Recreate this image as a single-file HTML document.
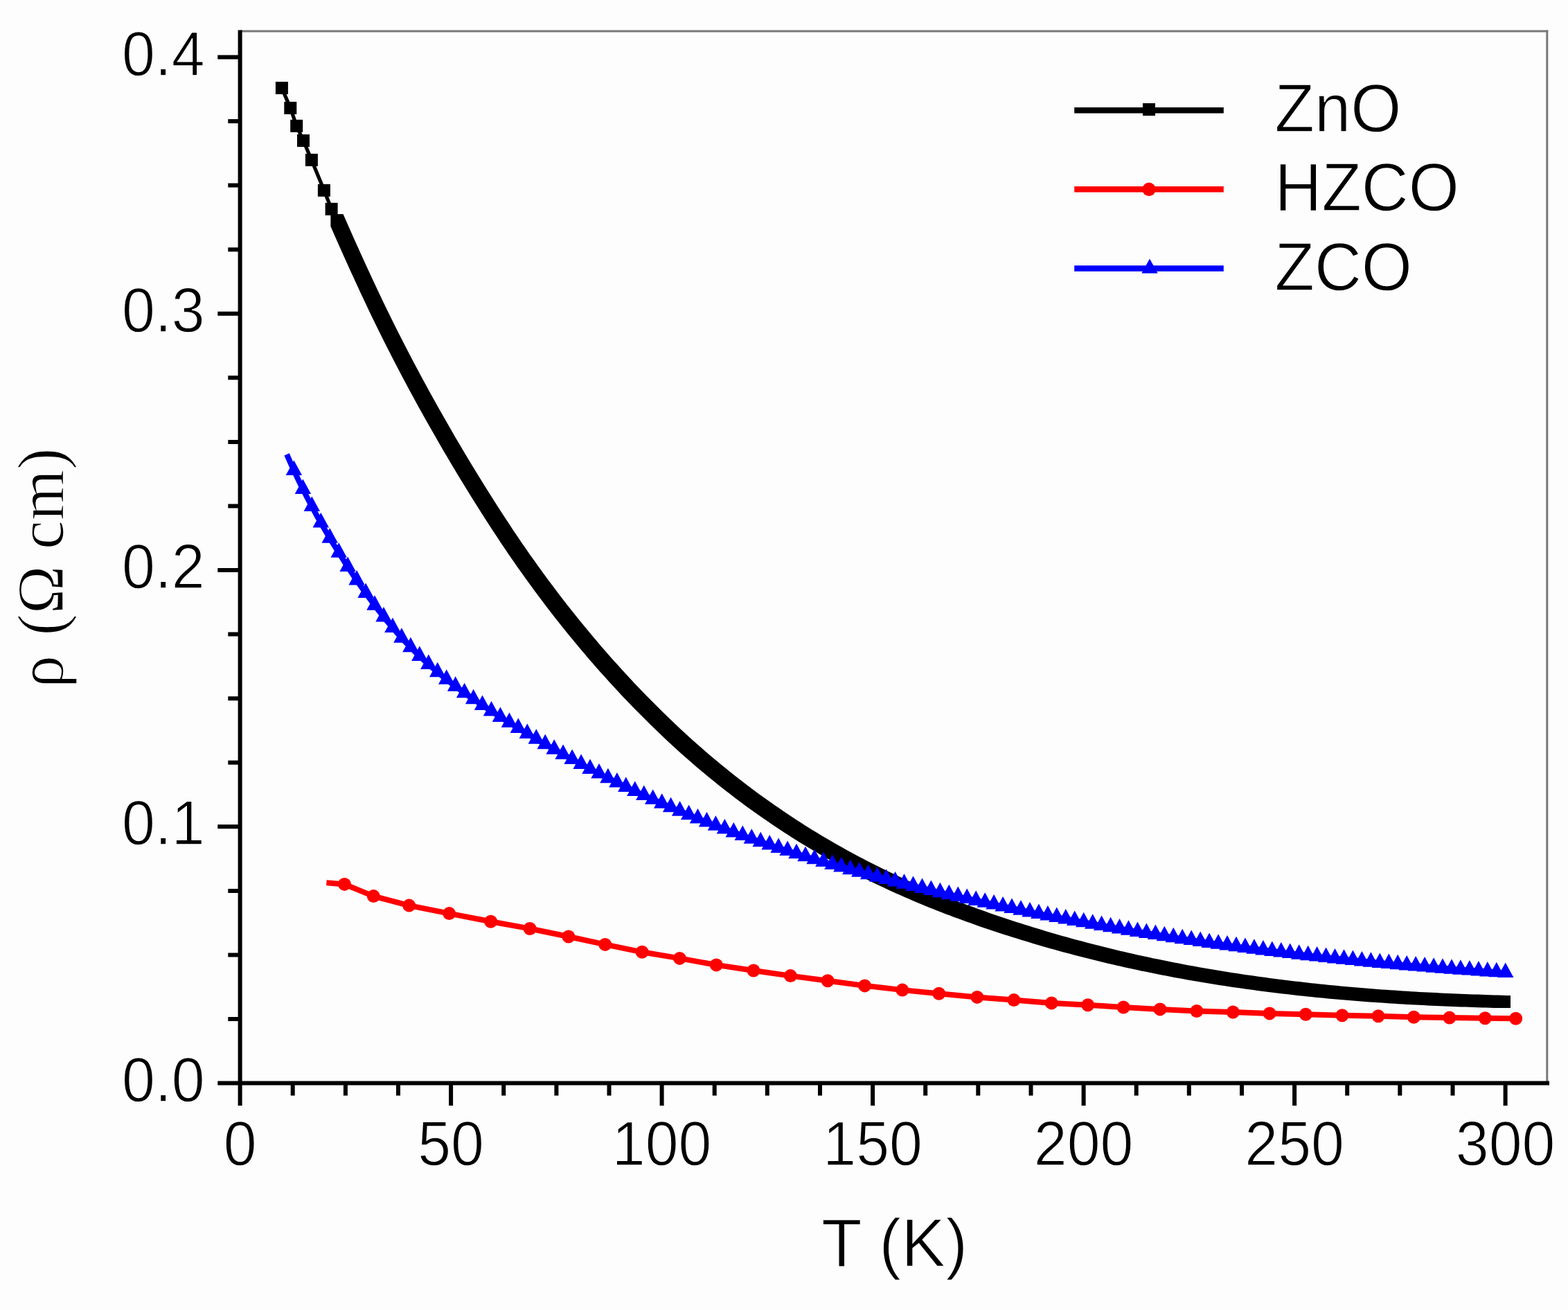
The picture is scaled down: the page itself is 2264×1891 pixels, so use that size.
<!DOCTYPE html>
<html lang="en"><head><meta charset="utf-8"><title>Resistivity vs temperature</title>
<style>html,body{margin:0;padding:0;background:#fdfdfd;}body{width:2264px;height:1891px;overflow:hidden;}svg{display:block;}text{font-family:"Liberation Sans",sans-serif;fill:#000;stroke:#fdfdfd;stroke-width:1.3px;}.tk{font-size:86px;}.lg{font-size:94px;}.ser{font-family:"Liberation Serif",serif;}</style></head><body>
<svg width="2264" height="1891" viewBox="0 0 2264 1891">
<rect width="2264" height="1891" fill="#fdfdfd"/>
<g>
<g stroke="#787878" stroke-width="3" fill="none">
<line x1="346.6" y1="45" x2="2235.3" y2="45"/>
<line x1="2233.8" y1="43.5" x2="2233.8" y2="1563.6"/>
</g>
<g fill="#000" stroke="none">
<polyline fill="none" stroke="#000" stroke-width="5.2" stroke-linejoin="round" points="406.9,127 419.3,155.9 428.2,181.8 438,203 449.9,230.9 467.9,274.8 478.6,301.8 486.6,318.3"/>
<rect x="397.9" y="118" width="18" height="18"/>
<rect x="410.3" y="146.9" width="18" height="18"/>
<rect x="419.2" y="172.8" width="18" height="18"/>
<rect x="429" y="194" width="18" height="18"/>
<rect x="440.9" y="221.9" width="18" height="18"/>
<rect x="458.9" y="265.8" width="18" height="18"/>
<rect x="469.6" y="292.8" width="18" height="18"/>
<rect x="477.6" y="309.3" width="18" height="18"/>
<polygon points="477.6,309.3 495.6,309.3 501.6,323 507.6,336.5 513.6,350 519.6,363.3 525.6,376.5 531.6,389.6 537.6,402.5 543.6,415.3 549.6,427.9 555.6,440.4 561.6,452.7 567.6,464.9 573.6,476.9 579.6,488.7 585.6,500.5 591.6,512 597.6,523.5 603.6,534.8 609.6,545.9 615.6,557 621.6,567.9 627.6,578.8 633.6,589.5 639.6,600.1 645.6,610.6 651.6,621 657.6,631.4 663.6,641.6 669.6,651.7 675.6,661.7 681.6,671.7 687.6,681.5 693.6,691.3 699.6,701 705.6,710.5 711.6,720.1 717.6,729.5 723.6,738.8 729.6,748 735.6,757.1 741.6,766.2 747.6,775.1 753.6,783.9 759.6,792.6 765.6,801.2 771.6,809.6 777.6,818 783.6,826.3 789.6,834.5 795.6,842.5 801.6,850.5 807.6,858.4 813.6,866.2 819.6,873.9 825.6,881.5 831.6,889 837.6,896.4 843.6,903.8 849.6,911 855.6,918.2 861.6,925.3 867.6,932.4 873.6,939.3 879.6,946.2 885.6,952.9 891.6,959.6 897.6,966.3 903.6,972.8 909.6,979.3 915.6,985.7 921.6,992.1 927.6,998.3 933.6,1004.5 939.6,1010.6 945.6,1016.6 951.6,1022.6 957.6,1028.5 963.6,1034.3 969.6,1040.1 975.6,1045.8 981.6,1051.4 987.6,1057 993.6,1062.4 999.6,1067.9 1005.6,1073.2 1011.6,1078.5 1017.6,1083.7 1023.6,1088.9 1029.6,1093.9 1035.6,1099 1041.6,1103.9 1047.6,1108.8 1053.6,1113.7 1059.6,1118.5 1065.6,1123.2 1071.6,1127.8 1077.6,1132.4 1083.6,1137 1089.6,1141.5 1095.6,1145.9 1101.6,1150.2 1107.6,1154.6 1113.6,1158.8 1119.6,1163 1125.6,1167.1 1131.6,1171.2 1137.6,1175.3 1143.6,1179.2 1149.6,1183.2 1155.6,1187.1 1161.6,1190.9 1167.6,1194.7 1173.6,1198.4 1179.6,1202 1185.6,1205.7 1191.6,1209.2 1197.6,1212.8 1203.6,1216.3 1209.6,1219.7 1215.6,1223.1 1221.6,1226.4 1227.6,1229.7 1233.6,1233 1239.6,1236.2 1245.6,1239.3 1251.6,1242.4 1257.6,1245.5 1263.6,1248.6 1269.6,1251.6 1275.6,1254.5 1281.6,1257.4 1287.6,1260.3 1293.6,1263.1 1299.6,1265.9 1305.6,1268.7 1311.6,1271.4 1317.6,1274.1 1323.6,1276.7 1329.6,1279.3 1335.6,1281.9 1341.6,1284.5 1347.6,1287 1353.6,1289.5 1359.6,1291.9 1365.6,1294.3 1371.6,1296.7 1377.6,1299 1383.6,1301.4 1389.6,1303.6 1395.6,1305.9 1401.6,1308.1 1407.6,1310.3 1413.6,1312.5 1419.6,1314.6 1425.6,1316.8 1431.6,1318.9 1437.6,1320.9 1443.6,1323 1449.6,1325 1455.6,1327 1461.6,1329 1467.6,1330.9 1473.6,1332.8 1479.6,1334.7 1485.6,1336.6 1491.6,1338.5 1497.6,1340.3 1503.6,1342.1 1509.6,1343.9 1515.6,1345.7 1521.6,1347.5 1527.6,1349.2 1533.6,1350.9 1539.6,1352.6 1545.6,1354.3 1551.6,1355.9 1557.6,1357.5 1563.6,1359.1 1569.6,1360.7 1575.6,1362.3 1581.6,1363.8 1587.6,1365.3 1593.6,1366.8 1599.6,1368.3 1605.6,1369.8 1611.6,1371.2 1617.6,1372.7 1623.6,1374.1 1629.6,1375.5 1635.6,1376.8 1641.6,1378.2 1647.6,1379.5 1653.6,1380.8 1659.6,1382.1 1665.6,1383.4 1671.6,1384.6 1677.6,1385.8 1683.6,1387.1 1689.6,1388.3 1695.6,1389.4 1701.6,1390.6 1707.6,1391.8 1713.6,1392.9 1719.6,1394 1725.6,1395.1 1731.6,1396.2 1737.6,1397.2 1743.6,1398.3 1749.6,1399.3 1755.6,1400.3 1761.6,1401.3 1767.6,1402.3 1773.6,1403.2 1779.6,1404.2 1785.6,1405.1 1791.6,1406 1797.6,1406.9 1803.6,1407.8 1809.6,1408.6 1815.6,1409.5 1821.6,1410.3 1827.6,1411.1 1833.6,1411.9 1839.6,1412.7 1845.6,1413.5 1851.6,1414.3 1857.6,1415 1863.6,1415.7 1869.6,1416.4 1875.6,1417.1 1881.6,1417.8 1887.6,1418.5 1893.6,1419.2 1899.6,1419.8 1905.6,1420.4 1911.6,1421.1 1917.6,1421.7 1923.6,1422.2 1929.6,1422.8 1935.6,1423.4 1941.6,1423.9 1947.6,1424.5 1953.6,1425 1959.6,1425.5 1965.6,1426 1971.6,1426.5 1977.6,1427 1983.6,1427.5 1989.6,1427.9 1995.6,1428.4 2001.6,1428.8 2007.6,1429.2 2013.6,1429.6 2019.6,1430 2025.6,1430.4 2031.6,1430.8 2037.6,1431.2 2043.6,1431.5 2049.6,1431.9 2055.6,1432.2 2061.6,1432.5 2067.6,1432.8 2073.6,1433.1 2079.6,1433.4 2085.6,1433.7 2091.6,1434 2097.6,1434.2 2103.6,1434.5 2109.6,1434.7 2115.6,1435 2121.6,1435.2 2127.6,1435.4 2133.6,1435.6 2139.6,1435.8 2145.6,1436 2151.6,1436.2 2157.6,1436.4 2163.6,1436.5 2169.6,1436.7 2175.6,1436.9 2181,1437 2181,1455 2163,1455 2157.6,1454.9 2151.6,1454.7 2145.6,1454.5 2139.6,1454.4 2133.6,1454.2 2127.6,1454 2121.6,1453.8 2115.6,1453.6 2109.6,1453.4 2103.6,1453.2 2097.6,1453 2091.6,1452.7 2085.6,1452.5 2079.6,1452.2 2073.6,1452 2067.6,1451.7 2061.6,1451.4 2055.6,1451.1 2049.6,1450.8 2043.6,1450.5 2037.6,1450.2 2031.6,1449.9 2025.6,1449.5 2019.6,1449.2 2013.6,1448.8 2007.6,1448.4 2001.6,1448 1995.6,1447.6 1989.6,1447.2 1983.6,1446.8 1977.6,1446.4 1971.6,1445.9 1965.6,1445.5 1959.6,1445 1953.6,1444.5 1947.6,1444 1941.6,1443.5 1935.6,1443 1929.6,1442.5 1923.6,1441.9 1917.6,1441.4 1911.6,1440.8 1905.6,1440.2 1899.6,1439.7 1893.6,1439.1 1887.6,1438.4 1881.6,1437.8 1875.6,1437.2 1869.6,1436.5 1863.6,1435.8 1857.6,1435.1 1851.6,1434.4 1845.6,1433.7 1839.6,1433 1833.6,1432.3 1827.6,1431.5 1821.6,1430.7 1815.6,1429.9 1809.6,1429.1 1803.6,1428.3 1797.6,1427.5 1791.6,1426.6 1785.6,1425.8 1779.6,1424.9 1773.6,1424 1767.6,1423.1 1761.6,1422.2 1755.6,1421.2 1749.6,1420.3 1743.6,1419.3 1737.6,1418.3 1731.6,1417.3 1725.6,1416.3 1719.6,1415.2 1713.6,1414.2 1707.6,1413.1 1701.6,1412 1695.6,1410.9 1689.6,1409.8 1683.6,1408.6 1677.6,1407.4 1671.6,1406.3 1665.6,1405.1 1659.6,1403.8 1653.6,1402.6 1647.6,1401.4 1641.6,1400.1 1635.6,1398.8 1629.6,1397.5 1623.6,1396.2 1617.6,1394.8 1611.6,1393.5 1605.6,1392.1 1599.6,1390.7 1593.6,1389.2 1587.6,1387.8 1581.6,1386.3 1575.6,1384.8 1569.6,1383.3 1563.6,1381.8 1557.6,1380.3 1551.6,1378.7 1545.6,1377.1 1539.6,1375.5 1533.6,1373.9 1527.6,1372.3 1521.6,1370.6 1515.6,1368.9 1509.6,1367.2 1503.6,1365.5 1497.6,1363.7 1491.6,1361.9 1485.6,1360.1 1479.6,1358.3 1473.6,1356.5 1467.6,1354.6 1461.6,1352.7 1455.6,1350.8 1449.6,1348.9 1443.6,1347 1437.6,1345 1431.6,1343 1425.6,1341 1419.6,1338.9 1413.6,1336.9 1407.6,1334.8 1401.6,1332.6 1395.6,1330.5 1389.6,1328.3 1383.6,1326.1 1377.6,1323.9 1371.6,1321.6 1365.6,1319.4 1359.6,1317 1353.6,1314.7 1347.6,1312.3 1341.6,1309.9 1335.6,1307.5 1329.6,1305 1323.6,1302.5 1317.6,1299.9 1311.6,1297.3 1305.6,1294.7 1299.6,1292.1 1293.6,1289.4 1287.6,1286.7 1281.6,1283.9 1275.6,1281.1 1269.6,1278.3 1263.6,1275.4 1257.6,1272.5 1251.6,1269.6 1245.6,1266.6 1239.6,1263.5 1233.6,1260.4 1227.6,1257.3 1221.6,1254.2 1215.6,1251 1209.6,1247.7 1203.6,1244.4 1197.6,1241.1 1191.6,1237.7 1185.6,1234.3 1179.6,1230.8 1173.6,1227.2 1167.6,1223.7 1161.6,1220 1155.6,1216.4 1149.6,1212.7 1143.6,1208.9 1137.6,1205.1 1131.6,1201.2 1125.6,1197.2 1119.6,1193.3 1113.6,1189.2 1107.6,1185.1 1101.6,1181 1095.6,1176.8 1089.6,1172.6 1083.6,1168.2 1077.6,1163.9 1071.6,1159.5 1065.6,1155 1059.6,1150.4 1053.6,1145.8 1047.6,1141.2 1041.6,1136.5 1035.6,1131.7 1029.6,1126.8 1023.6,1121.9 1017.6,1117 1011.6,1111.9 1005.6,1106.9 999.6,1101.7 993.6,1096.5 987.6,1091.2 981.6,1085.9 975.6,1080.4 969.6,1075 963.6,1069.4 957.6,1063.8 951.6,1058.1 945.6,1052.3 939.6,1046.5 933.6,1040.6 927.6,1034.6 921.6,1028.6 915.6,1022.5 909.6,1016.3 903.6,1010.1 897.6,1003.7 891.6,997.3 885.6,990.8 879.6,984.3 873.6,977.6 867.6,970.9 861.6,964.2 855.6,957.3 849.6,950.4 843.6,943.3 837.6,936.2 831.6,929 825.6,921.8 819.6,914.4 813.6,907 807.6,899.5 801.6,891.9 795.6,884.2 789.6,876.4 783.6,868.5 777.6,860.5 771.6,852.5 765.6,844.3 759.6,836 753.6,827.6 747.6,819.2 741.6,810.6 735.6,801.9 729.6,793.1 723.6,784.2 717.6,775.1 711.6,766 705.6,756.8 699.6,747.5 693.6,738.1 687.6,728.5 681.6,719 675.6,709.3 669.6,699.5 663.6,689.7 657.6,679.7 651.6,669.7 645.6,659.6 639.6,649.4 633.6,639 627.6,628.6 621.6,618.1 615.6,607.5 609.6,596.8 603.6,585.9 597.6,575 591.6,563.9 585.6,552.8 579.6,541.5 573.6,530 567.6,518.5 561.6,506.7 555.6,494.9 549.6,482.9 543.6,470.7 537.6,458.4 531.6,445.9 525.6,433.3 519.6,420.5 513.6,407.6 507.6,394.5 501.6,381.3 495.6,368 489.6,354.5 483.6,341 477.6,327.3"/>
</g>
<g fill="#ff0000" stroke="none">
<polyline fill="none" stroke="#ff0000" stroke-width="8" stroke-linejoin="round" points="471.4,1274.3 497.4,1276.4 539.3,1293.6 590.7,1307.1 648.6,1318.6 708.6,1330.3 765.1,1340.5 820.9,1352 873.7,1363.4 927.1,1374.3 981.4,1383.4 1034.3,1392.9 1088,1401 1141.4,1408.6 1195.1,1415.7 1248.6,1422.9 1302.9,1429.1 1355.7,1434.3 1410.9,1439.4 1463.9,1443.6 1518.3,1447.9 1570.7,1450.7 1622.1,1454 1675,1456.9 1727.9,1459.5 1780.3,1461 1833.1,1462.9 1885.3,1464.3 1937.9,1465.7 1990,1466.8 2041.4,1468.3 2092.9,1469.1 2144.3,1469.7 2188.6,1470.3"/>
<circle cx="497.4" cy="1276.4" r="9.5"/>
<circle cx="539.3" cy="1293.6" r="9.5"/>
<circle cx="590.7" cy="1307.1" r="9.5"/>
<circle cx="648.6" cy="1318.6" r="9.5"/>
<circle cx="708.6" cy="1330.3" r="9.5"/>
<circle cx="765.1" cy="1340.5" r="9.5"/>
<circle cx="820.9" cy="1352" r="9.5"/>
<circle cx="873.7" cy="1363.4" r="9.5"/>
<circle cx="927.1" cy="1374.3" r="9.5"/>
<circle cx="981.4" cy="1383.4" r="9.5"/>
<circle cx="1034.3" cy="1392.9" r="9.5"/>
<circle cx="1088" cy="1401" r="9.5"/>
<circle cx="1141.4" cy="1408.6" r="9.5"/>
<circle cx="1195.1" cy="1415.7" r="9.5"/>
<circle cx="1248.6" cy="1422.9" r="9.5"/>
<circle cx="1302.9" cy="1429.1" r="9.5"/>
<circle cx="1355.7" cy="1434.3" r="9.5"/>
<circle cx="1410.9" cy="1439.4" r="9.5"/>
<circle cx="1463.9" cy="1443.6" r="9.5"/>
<circle cx="1518.3" cy="1447.9" r="9.5"/>
<circle cx="1570.7" cy="1450.7" r="9.5"/>
<circle cx="1622.1" cy="1454" r="9.5"/>
<circle cx="1675" cy="1456.9" r="9.5"/>
<circle cx="1727.9" cy="1459.5" r="9.5"/>
<circle cx="1780.3" cy="1461" r="9.5"/>
<circle cx="1833.1" cy="1462.9" r="9.5"/>
<circle cx="1885.3" cy="1464.3" r="9.5"/>
<circle cx="1937.9" cy="1465.7" r="9.5"/>
<circle cx="1990" cy="1466.8" r="9.5"/>
<circle cx="2041.4" cy="1468.3" r="9.5"/>
<circle cx="2092.9" cy="1469.1" r="9.5"/>
<circle cx="2144.3" cy="1469.7" r="9.5"/>
<circle cx="2188.6" cy="1470.3" r="9.5"/>
</g>
<g fill="#0000ff" stroke="none">
<polyline fill="none" stroke="#0000ff" stroke-width="8" stroke-linejoin="round" points="414.1,655.9 418.1,665.1 422.1,674 426.1,682.7 430.1,691.2 434.1,699.5 438.1,707.6 442.1,715.5 446.1,723.2 450.1,730.8 454.1,738.2 458.1,745.5 462.1,752.6 466.1,759.6 470.1,766.5 474.1,773.3 478.1,779.9 482.1,786.5 486.1,793 490.1,799.4 494.1,805.7 498.1,812 502.1,818.1 506.1,824.2 510.1,830.2 514.1,836.2 518.1,842 522.1,847.8 526.1,853.4 530.1,859 534.1,864.5 538.1,870 542.1,875.3 546.1,880.5 550.1,885.6 554.1,890.7 558.1,895.6 562.1,900.5 566.1,905.2 570.1,909.8 574.1,914.4 578.1,918.8 582.1,923.2 586.1,927.4 590.1,931.6 594.1,935.7 598.1,939.7 602.1,943.6 606.1,947.4 610.1,951.2 614.1,954.9 618.1,958.5 622.1,962 626.1,965.5 630.1,968.9 634.1,972.2 638.1,975.5 642.1,978.8 646.1,981.9 650.1,985 654.1,988.1 658.1,991.1 662.1,994.1 666.1,997 670.1,999.9 674.1,1002.8 678.1,1005.6 682.1,1008.3 686.1,1011.1 690.1,1013.8 694.1,1016.5 698.1,1019.2 702.1,1021.8 706.1,1024.4 710.1,1027 714.1,1029.6 718.1,1032.2 722.1,1034.8 726.1,1037.3 730.1,1039.8 734.1,1042.4 738.1,1044.9 742.1,1047.4 746.1,1049.8 750.1,1052.3 754.1,1054.7 758.1,1057.2 762.1,1059.6 766.1,1062 770.1,1064.3 774.1,1066.7 778.1,1069.1 782.1,1071.4 786.1,1073.7 790.1,1076 794.1,1078.3 798.1,1080.6 802.1,1082.9 806.1,1085.1 810.1,1087.4 814.1,1089.6 818.1,1091.8 822.1,1094 826.1,1096.2 830.1,1098.4 834.1,1100.5 838.1,1102.7 842.1,1104.8 846.1,1106.9 850.1,1109 854.1,1111.1 858.1,1113.2 862.1,1115.2 866.1,1117.3 870.1,1119.3 874.1,1121.4 878.1,1123.4 882.1,1125.4 886.1,1127.3 890.1,1129.3 894.1,1131.3 898.1,1133.2 902.1,1135.1 906.1,1137.1 910.1,1139 914.1,1140.9 918.1,1142.7 922.1,1144.6 926.1,1146.5 930.1,1148.3 934.1,1150.1 938.1,1152 942.1,1153.8 946.1,1155.6 950.1,1157.3 954.1,1159.1 958.1,1160.9 962.1,1162.6 966.1,1164.3 970.1,1166.1 974.1,1167.8 978.1,1169.5 982.1,1171.2 986.1,1172.8 990.1,1174.5 994.1,1176.1 998.1,1177.8 1002.1,1179.4 1006.1,1181 1010.1,1182.6 1014.1,1184.2 1018.1,1185.8 1022.1,1187.4 1026.1,1188.9 1030.1,1190.5 1034.1,1192 1038.1,1193.6 1042.1,1195.1 1046.1,1196.6 1050.1,1198.1 1054.1,1199.6 1058.1,1201.1 1062.1,1202.5 1066.1,1204 1070.1,1205.4 1074.1,1206.9 1078.1,1208.3 1082.1,1209.7 1086.1,1211.1 1090.1,1212.5 1094.1,1213.9 1098.1,1215.3 1102.1,1216.6 1106.1,1218 1110.1,1219.3 1114.1,1220.7 1118.1,1222 1122.1,1223.3 1126.1,1224.7 1130.1,1226 1134.1,1227.3 1138.1,1228.5 1142.1,1229.8 1146.1,1231.1 1150.1,1232.4 1154.1,1233.6 1158.1,1234.9 1162.1,1236.1 1166.1,1237.3 1170.1,1238.5 1174.1,1239.8 1178.1,1241 1182.1,1242.2 1186.1,1243.4 1190.1,1244.5 1194.1,1245.7 1198.1,1246.9 1202.1,1248 1206.1,1249.2 1210.1,1250.3 1214.1,1251.5 1218.1,1252.6 1222.1,1253.7 1226.1,1254.9 1230.1,1256 1234.1,1257.1 1238.1,1258.2 1242.1,1259.3 1246.1,1260.3 1250.1,1261.4 1254.1,1262.5 1258.1,1263.6 1262.1,1264.6 1266.1,1265.7 1270.1,1266.7 1274.1,1267.8 1278.1,1268.8 1282.1,1269.8 1286.1,1270.9 1290.1,1271.9 1294.1,1272.9 1298.1,1273.9 1302.1,1274.9 1306.1,1275.9 1310.1,1276.9 1314.1,1277.9 1318.1,1278.9 1322.1,1279.8 1326.1,1280.8 1330.1,1281.8 1334.1,1282.7 1338.1,1283.7 1342.1,1284.7 1346.1,1285.6 1350.1,1286.6 1354.1,1287.5 1358.1,1288.4 1362.1,1289.4 1366.1,1290.3 1370.1,1291.2 1374.1,1292.1 1378.1,1293.1 1382.1,1294 1386.1,1294.9 1390.1,1295.8 1394.1,1296.7 1398.1,1297.6 1402.1,1298.5 1406.1,1299.4 1410.1,1300.3 1414.1,1301.1 1418.1,1302 1422.1,1302.9 1426.1,1303.8 1430.1,1304.6 1434.1,1305.5 1438.1,1306.3 1442.1,1307.2 1446.1,1308 1450.1,1308.9 1454.1,1309.7 1458.1,1310.6 1462.1,1311.4 1466.1,1312.2 1470.1,1313 1474.1,1313.9 1478.1,1314.7 1482.1,1315.5 1486.1,1316.3 1490.1,1317.1 1494.1,1317.9 1498.1,1318.7 1502.1,1319.5 1506.1,1320.3 1510.1,1321.1 1514.1,1321.9 1518.1,1322.7 1522.1,1323.4 1526.1,1324.2 1530.1,1325 1534.1,1325.7 1538.1,1326.5 1542.1,1327.2 1546.1,1328 1550.1,1328.7 1554.1,1329.5 1558.1,1330.2 1562.1,1331 1566.1,1331.7 1570.1,1332.4 1574.1,1333.2 1578.1,1333.9 1582.1,1334.6 1586.1,1335.3 1590.1,1336 1594.1,1336.7 1598.1,1337.4 1602.1,1338.1 1606.1,1338.8 1610.1,1339.5 1614.1,1340.2 1618.1,1340.9 1622.1,1341.6 1626.1,1342.3 1630.1,1342.9 1634.1,1343.6 1638.1,1344.3 1642.1,1344.9 1646.1,1345.6 1650.1,1346.3 1654.1,1346.9 1658.1,1347.6 1662.1,1348.2 1666.1,1348.9 1670.1,1349.5 1674.1,1350.1 1678.1,1350.8 1682.1,1351.4 1686.1,1352 1690.1,1352.6 1694.1,1353.3 1698.1,1353.9 1702.1,1354.5 1706.1,1355.1 1710.1,1355.7 1714.1,1356.3 1718.1,1356.9 1722.1,1357.5 1726.1,1358.1 1730.1,1358.7 1734.1,1359.3 1738.1,1359.8 1742.1,1360.4 1746.1,1361 1750.1,1361.6 1754.1,1362.1 1758.1,1362.7 1762.1,1363.2 1766.1,1363.8 1770.1,1364.4 1774.1,1364.9 1778.1,1365.5 1782.1,1366 1786.1,1366.5 1790.1,1367.1 1794.1,1367.6 1798.1,1368.1 1802.1,1368.7 1806.1,1369.2 1810.1,1369.7 1814.1,1370.2 1818.1,1370.7 1822.1,1371.2 1826.1,1371.7 1830.1,1372.3 1834.1,1372.8 1838.1,1373.3 1842.1,1373.7 1846.1,1374.2 1850.1,1374.7 1854.1,1375.2 1858.1,1375.7 1862.1,1376.2 1866.1,1376.6 1870.1,1377.1 1874.1,1377.6 1878.1,1378 1882.1,1378.5 1886.1,1379 1890.1,1379.4 1894.1,1379.9 1898.1,1380.3 1902.1,1380.8 1906.1,1381.2 1910.1,1381.7 1914.1,1382.1 1918.1,1382.5 1922.1,1383 1926.1,1383.4 1930.1,1383.8 1934.1,1384.2 1938.1,1384.6 1942.1,1385.1 1946.1,1385.5 1950.1,1385.9 1954.1,1386.3 1958.1,1386.7 1962.1,1387.1 1966.1,1387.5 1970.1,1387.9 1974.1,1388.3 1978.1,1388.7 1982.1,1389 1986.1,1389.4 1990.1,1389.8 1994.1,1390.2 1998.1,1390.6 2002.1,1390.9 2006.1,1391.3 2010.1,1391.7 2014.1,1392 2018.1,1392.4 2022.1,1392.7 2026.1,1393.1 2030.1,1393.4 2034.1,1393.8 2038.1,1394.1 2042.1,1394.5 2046.1,1394.8 2050.1,1395.1 2054.1,1395.5 2058.1,1395.8 2062.1,1396.1 2066.1,1396.5 2070.1,1396.8 2074.1,1397.1 2078.1,1397.4 2082.1,1397.7 2086.1,1398 2090.1,1398.3 2094.1,1398.7 2098.1,1399 2102.1,1399.3 2106.1,1399.6 2110.1,1399.8 2114.1,1400.1 2118.1,1400.4 2122.1,1400.7 2126.1,1401 2130.1,1401.3 2134.1,1401.5 2138.1,1401.8 2142.1,1402.1 2146.1,1402.4 2150.1,1402.6 2154.1,1402.9 2158.1,1403.2 2162.1,1403.4 2166.1,1403.7 2170.1,1403.9 2173.7,1404.1"/>
<path d="M412.7,685.9L424.4,664.4L436.1,685.9ZM425.7,713L437.4,691.5L449.1,713ZM438.6,738.1L450.3,716.6L462,738.1ZM451.6,761.6L463.3,740.1L475,761.6ZM464.5,783.7L476.2,762.2L487.9,783.7ZM477.5,804.8L489.2,783.3L500.9,804.8ZM490.4,825.1L502.1,803.6L513.8,825.1ZM503.4,844.5L515.1,823L526.8,844.5ZM516.4,863.1L528.1,841.6L539.8,863.1ZM529.3,880.8L541,859.3L552.7,880.8ZM542.3,897.4L554,875.9L565.7,897.4ZM555.2,913.1L566.9,891.6L578.6,913.1ZM568.2,927.7L579.9,906.2L591.6,927.7ZM581.2,941.3L592.9,919.8L604.6,941.3ZM594.1,954.1L605.8,932.6L617.5,954.1ZM607.1,966L618.8,944.5L630.5,966ZM620,977.2L631.7,955.7L643.4,977.2ZM633,987.7L644.7,966.2L656.4,987.7ZM645.9,997.7L657.6,976.2L669.3,997.7ZM658.9,1007.2L670.6,985.7L682.3,1007.2ZM671.9,1016.2L683.6,994.7L695.3,1016.2ZM684.8,1025L696.5,1003.5L708.2,1025ZM697.8,1033.5L709.5,1012L721.2,1033.5ZM710.7,1041.9L722.4,1020.4L734.1,1041.9ZM723.7,1050.1L735.4,1028.6L747.1,1050.1ZM736.6,1058.1L748.3,1036.6L760,1058.1ZM749.6,1066L761.3,1044.5L773,1066ZM762.6,1073.7L774.3,1052.2L786,1073.7ZM775.5,1081.3L787.2,1059.8L798.9,1081.3ZM788.5,1088.7L800.2,1067.2L811.9,1088.7ZM801.4,1096L813.1,1074.5L824.8,1096ZM814.4,1103.1L826.1,1081.6L837.8,1103.1ZM827.4,1110.1L839.1,1088.6L850.8,1110.1ZM840.3,1116.9L852,1095.4L863.7,1116.9ZM853.3,1123.6L865,1102.1L876.7,1123.6ZM866.2,1130.2L877.9,1108.7L889.6,1130.2ZM879.2,1136.6L890.9,1115.1L902.6,1136.6ZM892.1,1142.9L903.8,1121.4L915.5,1142.9ZM905.1,1149L916.8,1127.5L928.5,1149ZM918.1,1155.1L929.8,1133.6L941.5,1155.1ZM931,1160.9L942.7,1139.4L954.4,1160.9ZM944,1166.7L955.7,1145.2L967.4,1166.7ZM956.9,1172.3L968.6,1150.8L980.3,1172.3ZM969.9,1177.8L981.6,1156.3L993.3,1177.8ZM982.9,1183.2L994.6,1161.7L1006.3,1183.2ZM995.8,1188.5L1007.5,1167L1019.2,1188.5ZM1008.8,1193.6L1020.5,1172.1L1032.2,1193.6ZM1021.7,1198.7L1033.4,1177.2L1045.1,1198.7ZM1034.7,1203.6L1046.4,1182.1L1058.1,1203.6ZM1047.6,1208.4L1059.3,1186.9L1071,1208.4ZM1060.6,1213.1L1072.3,1191.6L1084,1213.1ZM1073.6,1217.7L1085.3,1196.2L1097,1217.7ZM1086.5,1222.2L1098.2,1200.7L1109.9,1222.2ZM1099.5,1226.6L1111.2,1205.1L1122.9,1226.6ZM1112.4,1230.9L1124.1,1209.4L1135.8,1230.9ZM1125.4,1235.1L1137.1,1213.6L1148.8,1235.1ZM1138.3,1239.2L1150,1217.7L1161.7,1239.2ZM1151.3,1243.3L1163,1221.8L1174.7,1243.3ZM1164.3,1247.2L1176,1225.7L1187.7,1247.2ZM1177.2,1251.1L1188.9,1229.6L1200.6,1251.1ZM1190.2,1254.9L1201.9,1233.4L1213.6,1254.9ZM1203.1,1258.6L1214.8,1237.1L1226.5,1258.6ZM1216.1,1262.2L1227.8,1240.7L1239.5,1262.2ZM1229.1,1265.8L1240.8,1244.3L1252.5,1265.8ZM1242,1269.3L1253.7,1247.8L1265.4,1269.3ZM1255,1272.7L1266.7,1251.2L1278.4,1272.7ZM1267.9,1276.1L1279.6,1254.6L1291.3,1276.1ZM1280.9,1279.4L1292.6,1257.9L1304.3,1279.4ZM1293.8,1282.7L1305.5,1261.2L1317.2,1282.7ZM1306.8,1285.9L1318.5,1264.4L1330.2,1285.9ZM1319.8,1289L1331.5,1267.5L1343.2,1289ZM1332.7,1292.1L1344.4,1270.6L1356.1,1292.1ZM1345.7,1295.2L1357.4,1273.7L1369.1,1295.2ZM1358.6,1298.2L1370.3,1276.7L1382,1298.2ZM1371.6,1301.1L1383.3,1279.6L1395,1301.1ZM1384.5,1304.1L1396.2,1282.6L1408,1304.1ZM1397.5,1307L1409.2,1285.5L1420.9,1307ZM1410.5,1309.8L1422.2,1288.3L1433.9,1309.8ZM1423.4,1312.6L1435.1,1291.1L1446.8,1312.6ZM1436.4,1315.4L1448.1,1293.9L1459.8,1315.4ZM1449.3,1318.1L1461,1296.6L1472.7,1318.1ZM1462.3,1320.7L1474,1299.2L1485.7,1320.7ZM1475.3,1323.4L1487,1301.9L1498.7,1323.4ZM1488.2,1326L1499.9,1304.5L1511.6,1326ZM1501.2,1328.5L1512.9,1307L1524.6,1328.5ZM1514.1,1331L1525.8,1309.5L1537.5,1331ZM1527.1,1333.5L1538.8,1312L1550.5,1333.5ZM1540,1336L1551.7,1314.5L1563.4,1336ZM1553,1338.3L1564.7,1316.8L1576.4,1338.3ZM1566,1340.7L1577.7,1319.2L1589.4,1340.7ZM1578.9,1343L1590.6,1321.5L1602.3,1343ZM1591.9,1345.3L1603.6,1323.8L1615.3,1345.3ZM1604.8,1347.5L1616.5,1326L1628.2,1347.5ZM1617.8,1349.7L1629.5,1328.2L1641.2,1349.7ZM1630.8,1351.9L1642.5,1330.4L1654.2,1351.9ZM1643.7,1354L1655.4,1332.5L1667.1,1354ZM1656.7,1356.1L1668.4,1334.6L1680.1,1356.1ZM1669.6,1358.2L1681.3,1336.7L1693,1358.2ZM1682.6,1360.2L1694.3,1338.7L1706,1360.2ZM1695.5,1362.2L1707.2,1340.7L1718.9,1362.2ZM1708.5,1364.1L1720.2,1342.6L1731.9,1364.1ZM1721.5,1366L1733.2,1344.5L1744.9,1366ZM1734.4,1367.9L1746.1,1346.4L1757.8,1367.9ZM1747.4,1369.7L1759.1,1348.2L1770.8,1369.7ZM1760.3,1371.5L1772,1350L1783.7,1371.5ZM1773.3,1373.3L1785,1351.8L1796.7,1373.3ZM1786.2,1375L1797.9,1353.5L1809.6,1375ZM1799.2,1376.7L1810.9,1355.2L1822.6,1376.7ZM1812.2,1378.4L1823.9,1356.9L1835.6,1378.4ZM1825.1,1380L1836.8,1358.5L1848.5,1380ZM1838.1,1381.6L1849.8,1360.1L1861.5,1381.6ZM1851,1383.1L1862.7,1361.6L1874.4,1383.1ZM1864,1384.7L1875.7,1363.2L1887.4,1384.7ZM1877,1386.2L1888.7,1364.7L1900.4,1386.2ZM1889.9,1387.6L1901.6,1366.1L1913.3,1387.6ZM1902.9,1389L1914.6,1367.5L1926.3,1389ZM1915.8,1390.4L1927.5,1368.9L1939.2,1390.4ZM1928.8,1391.8L1940.5,1370.3L1952.2,1391.8ZM1941.7,1393.1L1953.4,1371.6L1965.1,1393.1ZM1954.7,1394.4L1966.4,1372.9L1978.1,1394.4ZM1967.7,1395.7L1979.4,1374.2L1991.1,1395.7ZM1980.6,1396.9L1992.3,1375.4L2004,1396.9ZM1993.6,1398.1L2005.3,1376.6L2017,1398.1ZM2006.5,1399.3L2018.2,1377.8L2029.9,1399.3ZM2019.5,1400.4L2031.2,1378.9L2042.9,1400.4ZM2032.5,1401.5L2044.2,1380L2055.8,1401.5ZM2045.4,1402.6L2057.1,1381.1L2068.8,1402.6ZM2058.4,1403.7L2070.1,1382.2L2081.8,1403.7ZM2071.3,1404.7L2083,1383.2L2094.7,1404.7ZM2084.3,1405.7L2096,1384.2L2107.7,1405.7ZM2097.2,1406.7L2108.9,1385.2L2120.6,1406.7ZM2110.2,1407.6L2121.9,1386.1L2133.6,1407.6ZM2123.2,1408.5L2134.9,1387L2146.6,1408.5ZM2136.1,1409.4L2147.8,1387.9L2159.5,1409.4ZM2149.1,1410.2L2160.8,1388.7L2172.5,1410.2ZM2162,1411.1L2173.7,1389.6L2185.4,1411.1Z"/>
</g>
<g stroke="#000" stroke-width="6" fill="none">
<line x1="346.6" y1="43.5" x2="346.6" y2="1596"/>
<line x1="314.3" y1="1563.6" x2="2237" y2="1563.6"/>
<path d="M329.3,1471H346.6M329.3,1378.5H346.6M329.3,1285.9H346.6M314.3,1193.3H346.6M329.3,1100.8H346.6M329.3,1008.2H346.6M329.3,915.6H346.6M314.3,823H346.6M329.3,730.5H346.6M329.3,637.9H346.6M329.3,545.3H346.6M314.3,452.8H346.6M329.3,360.2H346.6M329.3,267.6H346.6M329.3,175.1H346.6M314.3,82.5H346.6M422.7,1563.6V1581.4M498.9,1563.6V1581.4M575,1563.6V1581.4M651.1,1563.6V1596M727.2,1563.6V1581.4M803.4,1563.6V1581.4M879.5,1563.6V1581.4M955.6,1563.6V1596M1031.7,1563.6V1581.4M1107.8,1563.6V1581.4M1184,1563.6V1581.4M1260.1,1563.6V1596M1336.2,1563.6V1581.4M1412.3,1563.6V1581.4M1488.5,1563.6V1581.4M1564.6,1563.6V1596M1640.7,1563.6V1581.4M1716.8,1563.6V1581.4M1793,1563.6V1581.4M1869.1,1563.6V1596M1945.2,1563.6V1581.4M2021.3,1563.6V1581.4M2097.5,1563.6V1581.4M2173.6,1563.6V1596"/>
</g>
<text class="tk" transform="translate(295.5,1589.6) scale(1,1.06)" text-anchor="end">0.0</text>
<text class="tk" transform="translate(295.5,1219.3) scale(1,1.06)" text-anchor="end">0.1</text>
<text class="tk" transform="translate(295.5,849) scale(1,1.06)" text-anchor="end">0.2</text>
<text class="tk" transform="translate(295.5,478.8) scale(1,1.06)" text-anchor="end">0.3</text>
<text class="tk" transform="translate(295.5,108.5) scale(1,1.06)" text-anchor="end">0.4</text>
<text class="tk" transform="translate(346.6,1682) scale(1,1.06)" text-anchor="middle">0</text>
<text class="tk" transform="translate(651.1,1682) scale(1,1.06)" text-anchor="middle">50</text>
<text class="tk" transform="translate(955.6,1682) scale(1,1.06)" text-anchor="middle">100</text>
<text class="tk" transform="translate(1260.1,1682) scale(1,1.06)" text-anchor="middle">150</text>
<text class="tk" transform="translate(1564.6,1682) scale(1,1.06)" text-anchor="middle">200</text>
<text class="tk" transform="translate(1869.1,1682) scale(1,1.06)" text-anchor="middle">250</text>
<text class="tk" transform="translate(2173.6,1682) scale(1,1.06)" text-anchor="middle">300</text>
<text class="lg" transform="translate(1291.5,1827.6) scale(1.02,1.055)" text-anchor="middle">T (K)</text>
<text class="lg ser" transform="translate(91,993) rotate(-90) scale(1,1.02)">ρ<tspan dx="5"> (Ω cm)</tspan></text>
<line x1="1551.2" y1="159.3" x2="1766.8" y2="159.3" stroke="#000" stroke-width="8.5"/>
<rect x="1650" y="149" width="18" height="18" fill="#000"/>
<text class="lg" transform="translate(1840.5,190.4) scale(1,1.055)">ZnO</text>
<line x1="1551.2" y1="273.3" x2="1766.8" y2="273.3" stroke="#ff0000" stroke-width="8.5"/>
<circle cx="1659" cy="273.3" r="9.7" fill="#ff0000"/>
<text class="lg" transform="translate(1840.5,304.4) scale(1,1.055)">HZCO</text>
<line x1="1551.2" y1="387.5" x2="1766.8" y2="387.5" stroke="#0000ff" stroke-width="8.5"/>
<path d="M1648.3,394.5L1660,373.5L1671.7,394.5Z" fill="#0000ff"/>
<text class="lg" transform="translate(1840.5,418.6) scale(1,1.055)">ZCO</text>
</g>
</svg></body></html>
